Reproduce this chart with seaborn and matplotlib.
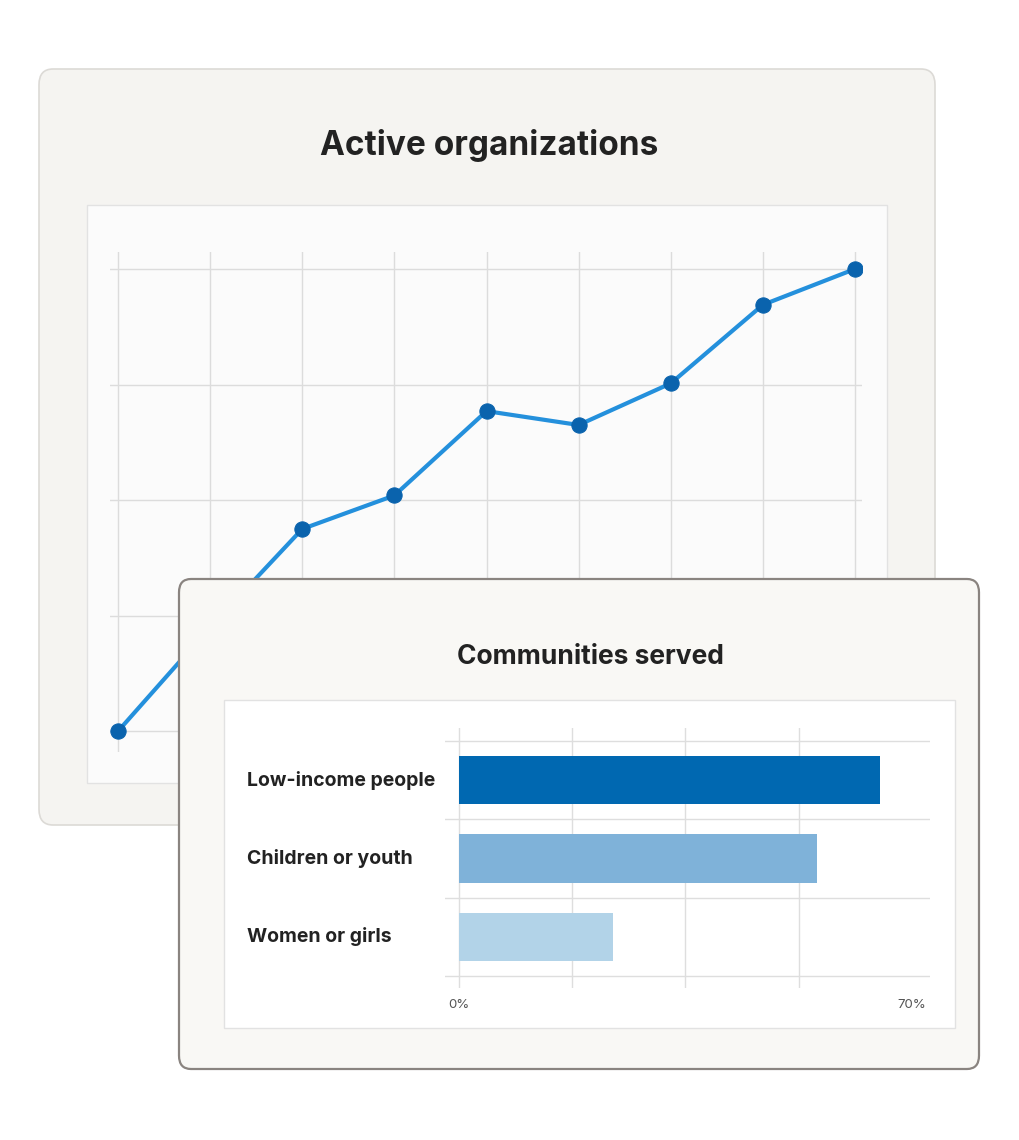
import matplotlib
matplotlib.use("Agg")
import matplotlib.pyplot as plt
from matplotlib.patches import FancyBboxPatch, Rectangle
import pandas as pd
import seaborn as sns

plt.rcParams["font.family"] = "Inter"

# data
line_x = list(range(9))
line_values = [0.0, 0.9, 1.75, 2.04, 2.77, 2.65, 3.01, 3.69, 4.0]
bar_categories = ["Low-income people", "Children or youth", "Women or girls"]
bar_values = [65, 55.3, 23.8]
bar_colors = ["#0068b1", "#7fb2d9", "#b2d3e8"]
tick_labels = ["0%", "70%"]

W, H = 1020, 1140
fig = plt.figure(figsize=(W / 100, H / 100), dpi=100)
fig.patch.set_facecolor("white")


def rect(x0, y0, x1, y1):
    return [x0 / W, 1 - y1 / H, (x1 - x0) / W, (y1 - y0) / H]


def px_box(ax, x0, y0, x1, y1, fc, ec, lw, r, z=1):
    p = FancyBboxPatch((x0 / W, 1 - y1 / H), (x1 - x0) / W, (y1 - y0) / H,
                       boxstyle=f"round,pad=0,rounding_size={r / W}",
                       fc=fc, ec=ec, lw=lw, transform=ax.transAxes, zorder=z)
    ax.add_patch(p)


# card 1 background
bg1 = fig.add_axes([0, 0, 1, 1], zorder=0)
bg1.axis("off")
px_box(bg1, 39, 69, 935, 825, "#f5f4f1", "#dcdad6", 1.2, 14)
bg1.add_patch(Rectangle((87 / W, 1 - 783 / H), 800 / W, 578 / H, fc="#fbfbfb",
                        ec="#e2e2e2", lw=1, transform=bg1.transAxes))
bg1.text(489 / W, 1 - 146 / H, "Active organizations", ha="center", va="center",
         fontsize=24, fontweight="bold", color="#222222", transform=bg1.transAxes)

# line chart
ax1 = fig.add_axes(rect(110, 252, 862, 752), zorder=1)
ax1.set_facecolor("none")
df_line = pd.DataFrame({"x": line_x, "y": line_values})
sns.lineplot(data=df_line, x="x", y="y", ax=ax1, color="#2490dc", lw=3,
             marker="o", markersize=11, markerfacecolor="#0a63ad",
             markeredgecolor="#0a63ad", zorder=3)
ax1.set_xlim(-0.087, 8.076)
ax1.set_ylim(-0.18, 4.147)
ax1.set_xticks(line_x)
ax1.set_yticks([0, 1, 2, 3, 4])
ax1.grid(True, color="#dcdcdc", lw=1)
ax1.tick_params(length=0, labelbottom=False, labelleft=False)
ax1.set_xlabel("")
ax1.set_ylabel("")
for s in ax1.spines.values():
    s.set_visible(False)

# card 2 background
bg2 = fig.add_axes([0, 0, 1, 1], zorder=2)
bg2.axis("off")
bg2.set_facecolor("none")
px_box(bg2, 179, 579, 979, 1069, "#f9f8f5", "#8a8480", 1.6, 12)
bg2.add_patch(Rectangle((224 / W, 1 - 1028 / H), 731 / W, 328 / H, fc="white",
                        ec="#e2e2e2", lw=1, transform=bg2.transAxes))
bg2.text(590 / W, 1 - 657 / H, "Communities served", ha="center", va="center",
         fontsize=19, fontweight="bold", color="#222222", transform=bg2.transAxes)

# bar chart
ax2 = fig.add_axes(rect(445, 728, 930, 988), zorder=3)
ax2.set_facecolor("none")
for gx in [0, 17.5, 35, 52.5]:
    ax2.axvline(gx, color="#dedede", lw=1, zorder=1)
for gy in [-0.5, 0.5, 1.5, 2.5]:
    ax2.axhline(gy, color="#dedede", lw=1, zorder=1)
df_bar = pd.DataFrame({"cat": bar_categories, "val": bar_values})
sns.barplot(data=df_bar, y="cat", x="val", hue="cat", palette=bar_colors,
            legend=False, ax=ax2, width=0.62, saturation=1, zorder=3)
ax2.set_xlim(-2.16, 72.8)
ax2.set_ylim(2.653, -0.666)
ax2.set_xticks([0, 70], labels=tick_labels)
ax2.set_yticks([])
ax2.grid(False)
ax2.tick_params(which="both", length=0)
ax2.tick_params(axis="x", labelsize=9.5, labelcolor="#555555", pad=8)
ax2.set_xlabel("")
ax2.set_ylabel("")
for s in ax2.spines.values():
    s.set_visible(False)
for i, c in enumerate(bar_categories):
    ax2.text(-0.408, i, c, ha="left", va="center", fontsize=14,
             fontweight="bold", color="#222222", transform=ax2.get_yaxis_transform())

fig.savefig("out.png", dpi=100)
